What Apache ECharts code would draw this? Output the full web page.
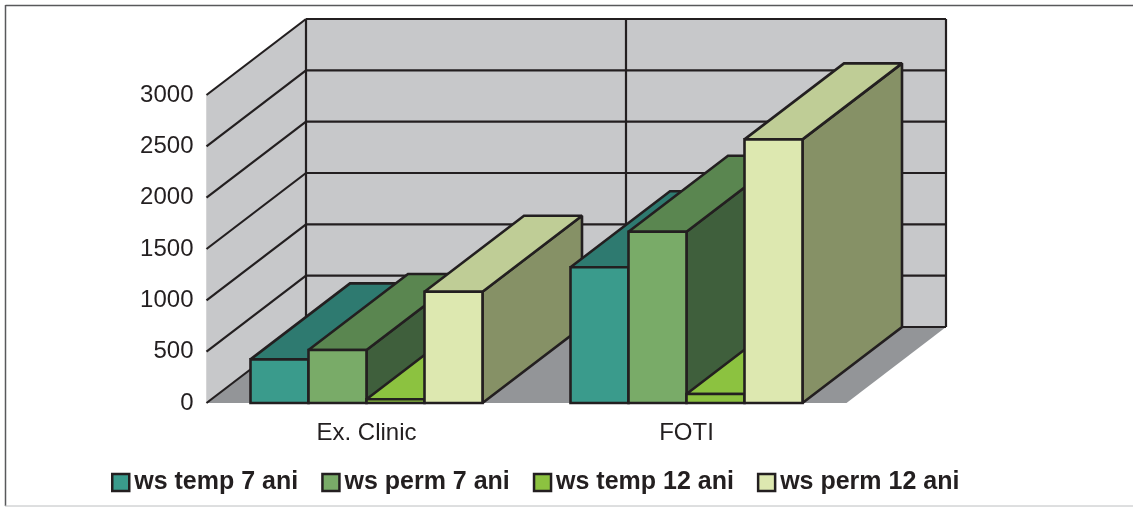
<!DOCTYPE html>
<html>
<head>
<meta charset="utf-8">
<style>html,body{margin:0;padding:0;background:#fff}#c{width:1133px;height:507px}</style>
<script src="https://cdn.jsdelivr.net/npm/echarts@6/dist/echarts.min.js"></script>
</head>
<body>
<div id="c"></div>
<script>
const categories = ['Ex. Clinic', 'FOTI'];
const yTicks = [0, 500, 1000, 1500, 2000, 2500, 3000];
const seriesNames = ['ws temp 7 ani', 'ws perm 7 ani', 'ws temp 12 ani', 'ws perm 12 ani'];
const wsTemp7 = [425, 1322];
const wsPerm7 = [516, 1668];
const wsTemp12 = [36, 88];
const wsPerm12 = [1084, 2568];
const seriesValues = [wsTemp7, wsPerm7, wsTemp12, wsPerm12];
const frontColors = ['#3a9b8c', '#79ab68', '#8cc240', '#dde8b0'];
const topColors = ['#2e7a70', '#5a8650', '#8cc240', '#bfcd96'];
const sideColors = ['#235c54', '#3f5f3c', '#6f9a33', '#869166'];

const DX = 99.5, DY = 76;
const INK = '#231f20';
const back = p => [p[0] + DX, p[1] - DY];

function poly(points, fill, z2, withStroke) {
  return {
    type: 'polygon', z2, silent: true,
    shape: { points },
    style: { fill, stroke: withStroke ? INK : null, lineWidth: withStroke ? 2.6 : 0, lineJoin: 'miter', miterLimit: 2 }
  };
}
function seg(a, b, z2, width, color) {
  return {
    type: 'line', z2, silent: true,
    shape: { x1: a[0], y1: a[1], x2: b[0], y2: b[1] },
    style: { stroke: color || INK, lineWidth: width || 2.2 }
  };
}

function renderRoom(params, api) {
  const band = api.size([1, 0])[0];
  const x0 = api.coord([0, 0])[0] - band / 2;
  const x1 = api.coord([categories.length - 1, 0])[0] + band / 2;
  const yOf = v => api.coord([0, v])[1];
  const maxV = yTicks[yTicks.length - 1];
  const fl = [x0, yOf(0)], fr = [x1, yOf(0)], tl = [x0, yOf(maxV)], tr = [x1, yOf(maxV)];
  const ch = [];
  ch.push(poly([back(tl), back(tr), back(fr), back(fl)], '#c7c8ca', 1));
  ch.push(poly([tl, back(tl), back(fl), fl], '#c7c8ca', 1));
  ch.push(poly([fl, back(fl), back(fr), fr], '#939598', 1));
  yTicks.forEach(v => {
    const l = [x0, yOf(v)], r = [x1, yOf(v)];
    ch.push(seg(l, back(l), 2));
    ch.push(seg(back(l), back(r), 2));
  });
  for (let i = 0; i <= categories.length; i++) {
    const x = x0 + band * i;
    ch.push(seg(back([x, yOf(maxV)]), back([x, yOf(0)]), 2));
  }
  return { type: 'group', children: ch };
}

function renderBar(params, api) {
  const s = params.seriesIndex - 1;
  const cat = api.value(0), val = api.value(1);
  const band = api.size([1, 0])[0];
  const cx = api.coord([cat, 0])[0];
  const bw = band * 58 / 320;
  const left = cx - 2 * bw + s * bw;
  const right = left + bw;
  const yT = api.coord([cat, val])[1], yB = api.coord([cat, 0])[1];
  const a = [left, yB], b = [right, yB], c = [right, yT], d = [left, yT];
  const z = 10 + cat * 10 + s;
  return {
    type: 'group',
    children: [
      poly([b, c, back(c), back(b)], sideColors[s], z, true),
      poly([d, c, back(c), back(d)], topColors[s], z, true),
      poly([a, b, c, d], frontColors[s], z, true)
    ]
  };
}

const chart = echarts.init(document.getElementById('c'), null, { renderer: 'canvas' });
chart.setOption({
  animation: false,
  backgroundColor: '#fff',
  textStyle: { fontFamily: '"Liberation Sans", Arial, sans-serif' },
  grid: { left: 206.5, top: 95, width: 640, height: 308 },
  xAxis: {
    type: 'category', data: categories,
    axisLine: { show: false }, axisTick: { show: false },
    axisLabel: { fontSize: 24, color: INK, margin: 18, fontFamily: '"Liberation Sans", Arial, sans-serif' }
  },
  yAxis: {
    type: 'value', min: 0, max: 3000, interval: 500,
    splitLine: { show: false }, axisTick: { show: false },
    axisLine: { show: true, lineStyle: { color: '#e2e2e2', width: 1 } },
    axisLabel: { fontSize: 24, color: INK, margin: 13, padding: [3, 0, 0, 0], formatter: v => String(v), fontFamily: '"Liberation Sans", Arial, sans-serif' }
  },
  legend: {
    left: 106, top: 465, itemWidth: 17, itemHeight: 17, itemGap: 23,
    icon: 'rect', selectedMode: false,
    data: seriesNames,
    itemStyle: { borderColor: INK, borderWidth: 2.5 },
    textStyle: { fontSize: 25, fontWeight: 'bold', color: INK, fontFamily: '"Liberation Sans", Arial, sans-serif' }
  },
  graphic: [
    { type: 'line', silent: true, shape: { x1: 5.5, y1: 5.5, x2: 1133, y2: 5.5 }, style: { stroke: '#58595b', lineWidth: 1.5 } },
    { type: 'line', silent: true, shape: { x1: 5.5, y1: 5, x2: 5.5, y2: 506 }, style: { stroke: '#58595b', lineWidth: 1.5 } },
    { type: 'line', silent: true, shape: { x1: 5, y1: 506, x2: 1133, y2: 506 }, style: { stroke: '#bcbec0', lineWidth: 1 } }
  ],
  series: [
    { type: 'custom', name: 'room', data: [[0, 0]], renderItem: renderRoom, clip: false, silent: true, encode: { x: 0, y: 1 } }
  ].concat(seriesNames.map((n, s) => ({
    type: 'custom', name: n, renderItem: renderBar, clip: false, silent: true,
    itemStyle: { color: frontColors[s] },
    encode: { x: 0, y: 1 },
    data: categories.map((c, i) => [i, seriesValues[s][i]])
  })))
});
</script>
</body>
</html>
